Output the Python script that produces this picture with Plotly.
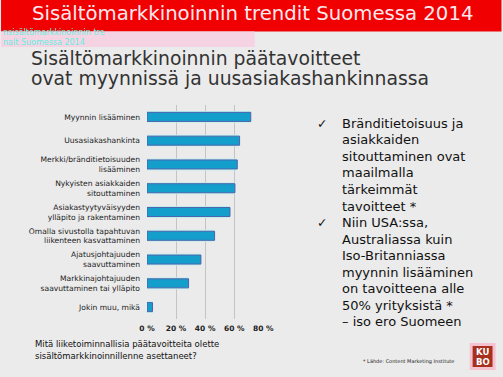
import plotly.graph_objects as go

categories = [
    "Myynnin lisääminen",
    "Uusasiakashankinta",
    "Merkki/bränditietoisuuden<br>lisääminen",
    "Nykyisten asiakkaiden<br>sitouttaminen",
    "Asiakastyytyväisyyden<br>ylläpito ja rakentaminen",
    "Omalla sivustolla tapahtuvan<br>liikenteen kasvattaminen",
    "Ajatusjohtajuuden<br>saavuttaminen",
    "Markkinajohtajuuden<br>saavuttaminen tai ylläpito",
    "Jokin muu, mikä",
]
values = [71.4, 63.7, 62.1, 60.5, 57.1, 46.5, 37.1, 28.6, 3.8]
x_ticks = [0, 20, 40, 60, 80]
x_tick_labels = ["0 %", "20 %", "40 %", "60 %", "80 %"]

title = "Sisältömarkkinoinnin trendit Suomessa 2014"
ghost = ["nsisältömarkkinoinnin tre", "nalt Suomessa 2014"]
subtitle = ["Sisältömarkkinoinnin päätavoitteet", "ovat myynnissä ja uusasiakashankinnassa"]
question = ["Mitä liiketoiminnallisia päätavoitteita olette", "sisältömarkkinoinnillenne asettaneet?"]
bullets = [
    ["Bränditietoisuus ja", "asiakkaiden", "sitouttaminen ovat", "maailmalla", "tärkeimmät", "tavoitteet *"],
    ["Niin USA:ssa,", "Australiassa kuin", "Iso-Britanniassa", "myynnin lisääminen",
     "on tavoitteena alle", "50% yrityksistä *", "– iso ero Suomeen"],
]
footnote = "* Lähde: Content Marketing Institute"

W, H = 503, 377
L, R, T, B = 146.7, 264.3, 105.0, 319.0

def px(x):
    return (x - L) / (R - L)

def py(y):
    return (B - y) / (B - T)

FONT = "DejaVu Sans"
BG = "#ebebeb"

fig = go.Figure()
fig.add_trace(go.Bar(
    y=categories, x=values, orientation="h", width=0.5,
    marker=dict(color="#bff2ec", line=dict(width=0)),
    hoverinfo="skip", showlegend=False,
))
fig.add_trace(go.Bar(
    y=categories, x=values, orientation="h", width=0.38,
    marker=dict(color="#139ecb", line=dict(color="#4f62ad", width=1)),
    showlegend=False,
))

shapes = [
    dict(type="rect", xref="paper", yref="paper", x0=px(0), x1=px(W), y0=py(31.5), y1=py(0),
         fillcolor="#f00000", line=dict(width=0), layer="below"),
    dict(type="rect", xref="paper", yref="paper", x0=px(0), x1=px(255), y0=py(47), y1=py(31.5),
         fillcolor="#f6d3e3", line=dict(width=0), layer="below"),
    # logo
    dict(type="rect", xref="paper", yref="paper", x0=px(471), x1=px(497), y0=py(370), y1=py(343),
         fillcolor="#f5c3cf", line=dict(width=0)),
    dict(type="rect", xref="paper", yref="paper", x0=px(474), x1=px(494), y0=py(367), y1=py(346),
         fillcolor="#a8301f", line=dict(width=0)),
]

ann = []
def text(x, y, s, size, color, anchor="left", family=FONT, weight=None):
    f = dict(family=family, size=size, color=color)
    if weight:
        f["weight"] = weight
    ann.append(dict(x=px(x), y=py(y), xref="paper", yref="paper", text=s, showarrow=False,
                    xanchor=anchor, yanchor="middle", borderpad=0, font=f))

# ghost artifacts of the slide
text(1, 32.6, ghost[0], 8, "#5ef0e2")
text(1, 42.2, ghost[1], 8, "#5ef0e2")

# title
text(30, 13.5, title, 19.7, "#fde8ee")
text(29, 58, subtitle[0], 18.8, "#333333")
text(29, 78, subtitle[1], 18.8, "#333333")

# question
text(33, 344, question[0], 8.5, "#111111")
text(33, 355.5, question[1], 8.5, "#111111")

# bullets
i = 0
for b in bullets:
    for j, line in enumerate(b):
        y = 123.3 + 16.55 * i
        if j == 0:
            text(323, y, "✓", 12.5, "#111111", anchor="center")
        text(342, y, line, 13, "#111111")
        i += 1

# footnote and logo text
text(363, 361, footnote, 5, "#222222")
text(484, 351.5, "KU", 8.5, "#ffffff", anchor="center", weight="bold")
text(484, 361.5, "BO", 8.5, "#ffffff", anchor="center", weight="bold")

fig.update_layout(
    width=W, height=H,
    margin=dict(l=L, r=W - R, t=T, b=H - B, pad=0),
    paper_bgcolor=BG, plot_bgcolor=BG,
    barmode="overlay",
    shapes=shapes, annotations=ann,
    xaxis=dict(range=[0, 80.5], tickvals=x_ticks, ticktext=x_tick_labels, showgrid=True,
               gridcolor="#c4c4c4", gridwidth=1, zeroline=False, showline=False,
               tickfont=dict(family=FONT, size=7.5, color="#222222", weight="bold"),
               ticks="", ticklabelstandoff=3),
    yaxis=dict(autorange="reversed", showgrid=False, zeroline=False, showline=False,
               tickfont=dict(family=FONT, size=7.6, color="#222222"), ticks="",
               ticklabelstandoff=6),
)

fig.write_html("out.html")
